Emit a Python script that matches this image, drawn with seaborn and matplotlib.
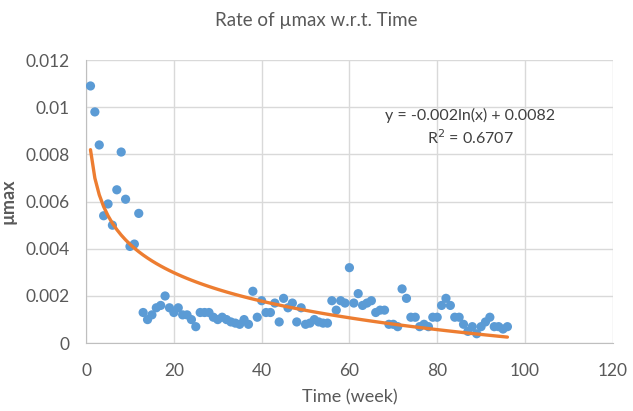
import numpy as np
import pandas as pd
import matplotlib
matplotlib.use("Agg")
import matplotlib.pyplot as plt
import seaborn as sns

# weekly umax readings
weeks = list(range(1, 97))
umax = [
    0.0109, 0.0098, 0.0084, 0.0054, 0.0059, 0.0050, 0.0065, 0.0081, 0.0061, 0.0041,
    0.0042, 0.0055, 0.0013, 0.0010, 0.0012, 0.0015, 0.0016, 0.0020, 0.0015, 0.0013,
    0.0015, 0.0012, 0.0012, 0.0010, 0.0007, 0.0013, 0.0013, 0.0013, 0.0011, 0.0010,
    0.0011, 0.0010, 0.0009, 0.00085, 0.0008, 0.0010, 0.0008, 0.0022, 0.0011, 0.0018,
    0.0013, 0.0013, 0.0017, 0.0009, 0.0019, 0.0015, 0.0017, 0.0009, 0.0015, 0.0008,
    0.00085, 0.0010, 0.0009, 0.00085, 0.00085, 0.0018, 0.0014, 0.0018, 0.0017, 0.0032,
    0.0017, 0.0021, 0.0016, 0.0017, 0.0018, 0.0013, 0.0014, 0.0014, 0.0008, 0.0008,
    0.0007, 0.0023, 0.0019, 0.0011, 0.0011, 0.0007, 0.0008, 0.0007, 0.0011, 0.0011,
    0.0016, 0.0019, 0.0016, 0.0011, 0.0011, 0.0008, 0.0005, 0.0007, 0.0004, 0.0007,
    0.0009, 0.0011, 0.0007, 0.0007, 0.0006, 0.0007,
]
# log trendline as drawn by the spreadsheet
trend_slope = -0.00174
trend_intercept = 0.0082
eq_text = "y = -0.002ln(x) + 0.0082"
r2_text = "R$^2$ = 0.6707"

df = pd.DataFrame({"week": weeks, "umax": umax})
df["trend"] = trend_slope * np.log(df["week"]) + trend_intercept

sns.set_style("white")
plt.rcParams["font.family"] = ["Lato", "DejaVu Sans"]
txt = "#595959"

fig = plt.figure(figsize=(6.33, 4.11), dpi=100)
ax = fig.add_axes([0.136, 0.165, 0.832, 0.689])

sns.scatterplot(data=df, x="week", y="umax", ax=ax, color="#5B9BD5",
                s=44, edgecolor="none", zorder=3)
sns.lineplot(data=df, x="week", y="trend", ax=ax, color="#ED7D31",
             linewidth=2.4, zorder=4)

ax.set_xlim(0, 120)
ax.set_ylim(0, 0.012)
ax.set_xticks(range(0, 121, 20))
ax.set_yticks(np.arange(0, 0.0121, 0.002))
ax.set_yticklabels(["0", "0.002", "0.004", "0.006", "0.008", "0.01", "0.012"])
ax.grid(True, color="#D9D9D9", linewidth=1)
ax.set_axisbelow(True)
for side in ["top", "right"]:
    ax.spines[side].set_visible(False)
for side in ["left", "bottom"]:
    ax.spines[side].set_color("#BFBFBF")
ax.tick_params(axis="x", length=0, labelsize=12.5, colors=txt, pad=14)
ax.tick_params(axis="y", length=0, labelsize=12.5, colors=txt, pad=12)

ax.set_xlabel("Time (week)", fontsize=13, color=txt, labelpad=8)
ax.set_ylabel("µmax", fontsize=13, color=txt, labelpad=6, fontweight="bold")
fig.suptitle("Rate of µmax w.r.t. Time", fontsize=13.5, color=txt, y=0.97)

ax.text(87.5, 0.00966, eq_text, ha="center", va="center", fontsize=11.5, color="#404040")
ax.text(87.5, 0.00873, r2_text, ha="center", va="center", fontsize=11.5, color="#404040")

fig.savefig("out.png", dpi=100)
